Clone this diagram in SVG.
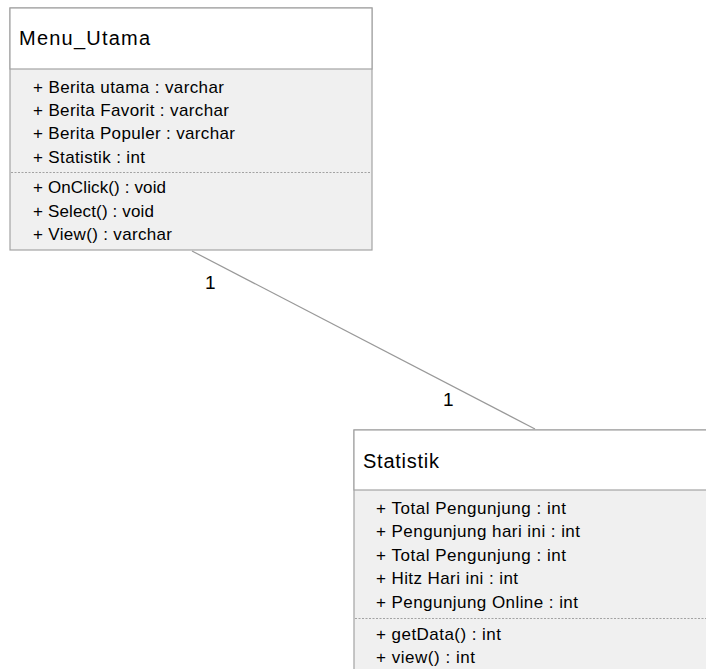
<svg xmlns="http://www.w3.org/2000/svg" width="706" height="669" viewBox="0 0 706 669">
  <style>
    .box { fill: #f0f0f0; stroke: #a3a3a3; stroke-width: 1.2; }
    .head { fill: #ffffff; stroke: #a3a3a3; stroke-width: 1.2; }
    .sep { stroke: #a3a3a3; stroke-width: 1; stroke-dasharray: 2 1.5; }
    .title { font-family: "Liberation Sans", Arial, sans-serif; font-size: 20px; fill: #000; }
    .member { font-family: "Liberation Sans", Arial, sans-serif; font-size: 17px; fill: #000; }
    .mult { font-family: "Liberation Sans", Arial, sans-serif; font-size: 19px; fill: #000; }
    .link { stroke: #999999; stroke-width: 1.2; fill: none; }
  </style>

  <!-- association between the two classes -->
  <g id="connectors">
    <line class="link" x1="192" y1="251" x2="535" y2="429"/>
    <text class="mult" x="205" y="289">1</text>
    <text class="mult" x="443" y="406">1</text>
  </g>

  <!-- class Menu_Utama -->
  <g id="menu-utama">
    <rect class="box" x="10" y="8" width="362" height="242"/>
    <rect class="head" x="10" y="8" width="362" height="61"/>
    <text class="title" x="19" y="45" textLength="131" lengthAdjust="spacing">Menu_Utama</text>
    <text class="member" x="33" y="93" textLength="191" lengthAdjust="spacing">+ Berita utama : varchar</text>
    <text class="member" x="33" y="116" textLength="196" lengthAdjust="spacing">+ Berita Favorit : varchar</text>
    <text class="member" x="33" y="139" textLength="202" lengthAdjust="spacing">+ Berita Populer : varchar</text>
    <text class="member" x="33" y="163" textLength="112" lengthAdjust="spacing">+ Statistik : int</text>
    <line class="sep" x1="11" y1="172.5" x2="371" y2="172.5"/>
    <text class="member" x="33" y="193" textLength="133" lengthAdjust="spacing">+ OnClick() : void</text>
    <text class="member" x="33" y="217" textLength="121" lengthAdjust="spacing">+ Select() : void</text>
    <text class="member" x="33" y="240" textLength="139" lengthAdjust="spacing">+ View() : varchar</text>
  </g>

  <!-- class Statistik -->
  <g id="statistik">
    <rect class="box" x="354" y="430" width="360" height="250"/>
    <rect class="head" x="354" y="430" width="360" height="60"/>
    <text class="title" x="363" y="468" textLength="76" lengthAdjust="spacing">Statistik</text>
    <text class="member" x="376" y="514" textLength="190" lengthAdjust="spacing">+ Total Pengunjung : int</text>
    <text class="member" x="376" y="537" textLength="204" lengthAdjust="spacing">+ Pengunjung hari ini : int</text>
    <text class="member" x="376" y="561" textLength="190" lengthAdjust="spacing">+ Total Pengunjung : int</text>
    <text class="member" x="376" y="584" textLength="142" lengthAdjust="spacing">+ Hitz Hari ini : int</text>
    <text class="member" x="376" y="608" textLength="202" lengthAdjust="spacing">+ Pengunjung Online : int</text>
    <line class="sep" x1="355" y1="618.5" x2="706" y2="618.5"/>
    <text class="member" x="376" y="640" textLength="125" lengthAdjust="spacing">+ getData() : int</text>
    <text class="member" x="376" y="663" textLength="99" lengthAdjust="spacing">+ view() : int</text>
  </g>
</svg>
